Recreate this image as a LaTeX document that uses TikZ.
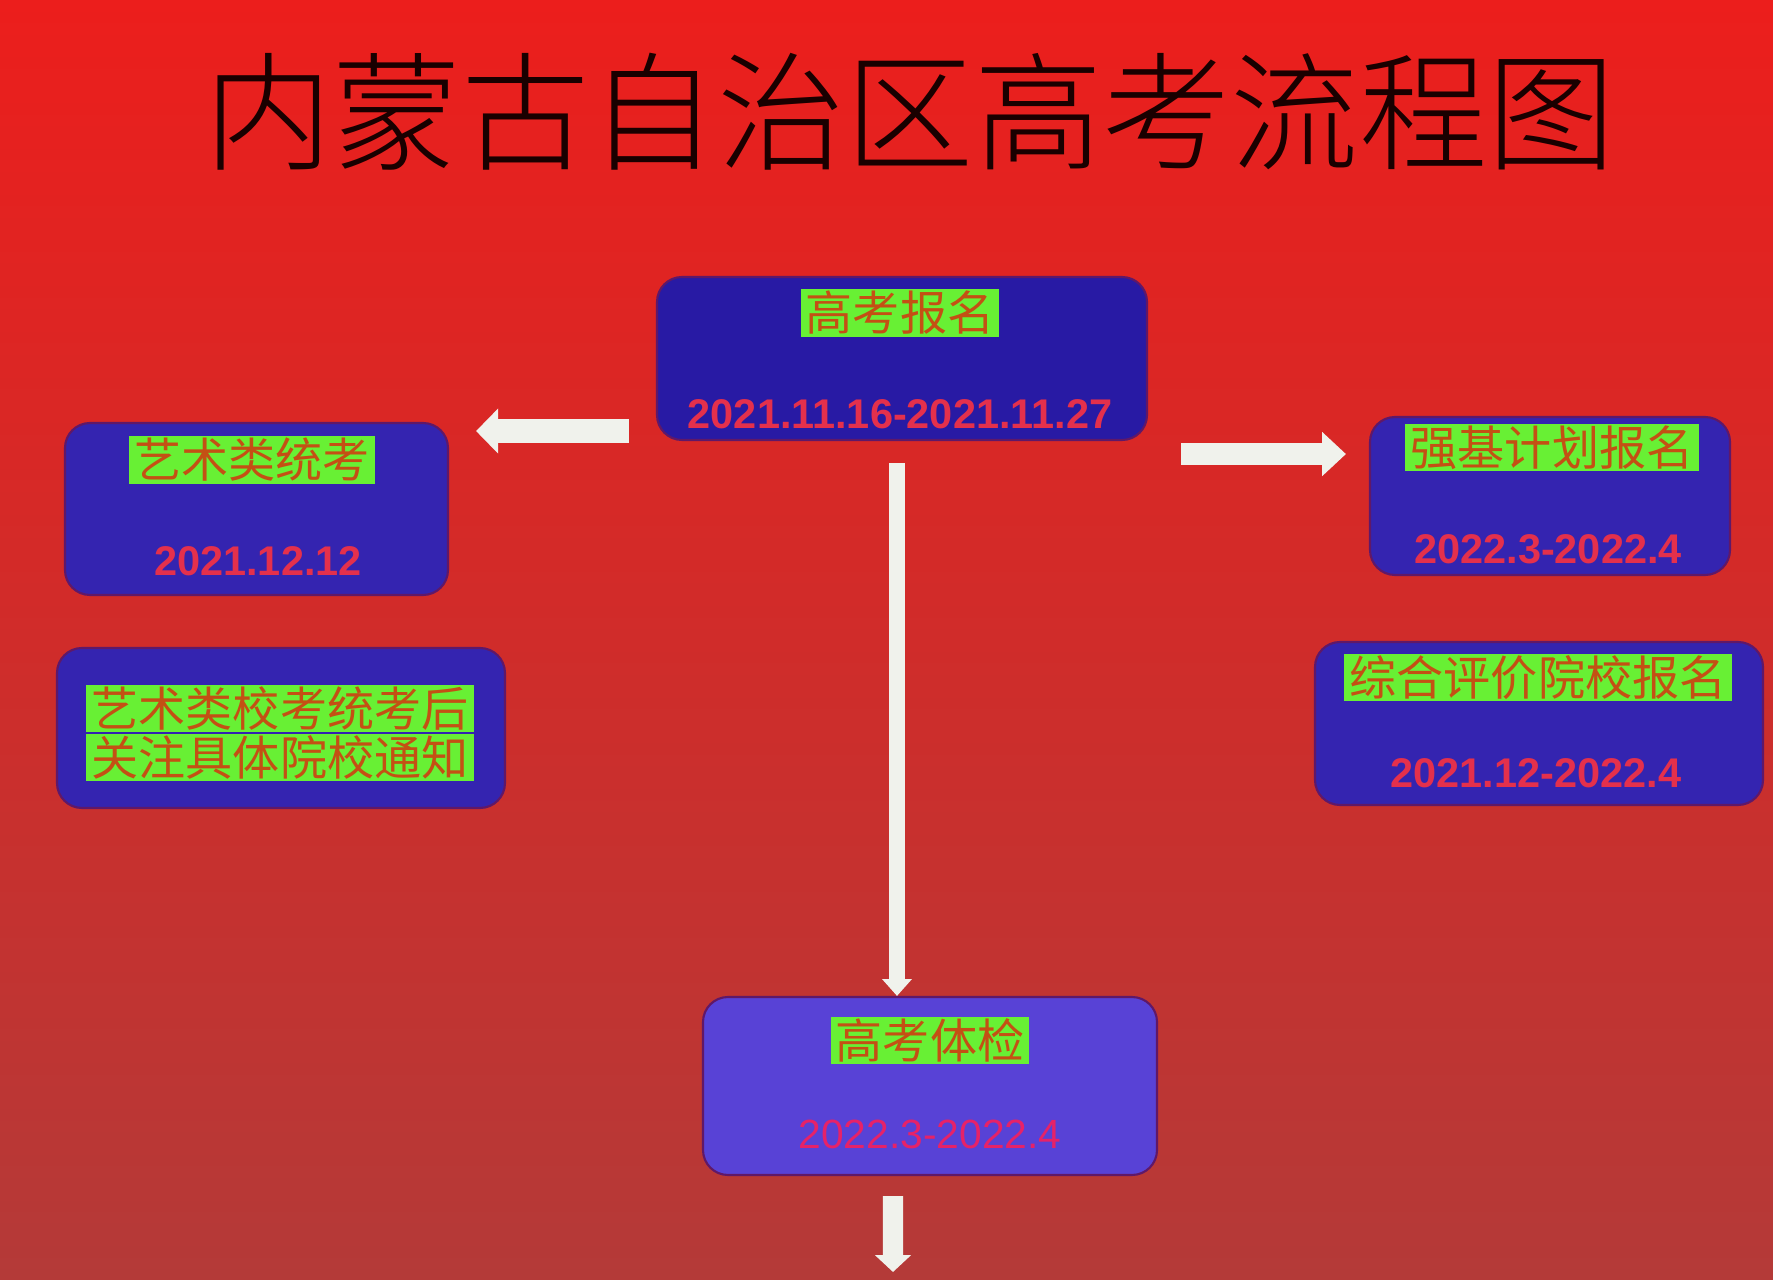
\documentclass[tikz,border=0pt]{standalone}
\usepackage{fontspec}
\setmainfont{Liberation Sans}
\newfontfamily\cjk{Noto Sans CJK SC}
\newfontfamily\cjkthin{Noto Sans CJK SC}[UprightFont={* Light}]
\usetikzlibrary{arrows.meta,positioning}
\definecolor{bgtop}{RGB}{236,30,28}
\definecolor{bgmid}{RGB}{233,72,52}
\definecolor{bgbot}{RGB}{180,58,56}
\definecolor{boxblue}{RGB}{52,36,176}
\definecolor{boxdark}{RGB}{40,26,164}
\definecolor{boxlight}{RGB}{88,66,214}
\definecolor{boxline}{RGB}{96,24,104}
\definecolor{taggreen}{RGB}{104,240,52}
\definecolor{tagtext}{RGB}{196,80,20}
\definecolor{datered}{RGB}{228,48,76}
\definecolor{datepink}{RGB}{230,34,104}
\definecolor{arrowwhite}{RGB}{240,242,236}
\tikzset{
  stage/.style={draw=boxline,line width=0.6pt,fill=boxblue,rounded corners=0.25cm,inner sep=0pt},
  tag/.style={fill=taggreen,text=tagtext,font=\cjk\fontsize{13.4}{14}\selectfont,inner xsep=1.5pt,inner ysep=0pt,minimum height=13.6pt},
  date/.style={text=datered,font=\bfseries\fontsize{11.8}{12}\selectfont,inner sep=0pt},
  flow/.style={color=arrowwhite}
}
\begin{document}
\begin{tikzpicture}
\useasboundingbox (0,0) rectangle (17.73,-12.80);
\shade[top color=bgtop,middle color=bgmid,bottom color=bgbot] (0,0) rectangle (17.73,-12.80); % le fond
\node[font=\cjkthin\fontsize{36.5}{37}\selectfont,text=black!90!red] (title) at (9.10,-1.12) {内蒙古自治区高考流程图};
% les cases
\node[stage,fill=boxdark,minimum width=4.90cm,minimum height=1.63cm] (reg) at (9.02,-3.585) {};
\node[tag] (regtag) at (9.00,-3.13) {高考报名};
\node[date] (regdate) at (9.00,-4.14) {2021.11.16-2021.11.27};
\node[stage,minimum width=3.83cm,minimum height=1.72cm] (art) at (2.565,-5.09) {};
\node[tag] (arttag) at (2.52,-4.60) {艺术类统考};
\node[date] (artdate) at (2.58,-5.61) {2021.12.12};
\node[stage,minimum width=4.48cm,minimum height=1.60cm] (note) at (2.81,-7.28) {};
\node[tag] (notetop) at (2.80,-7.085) {艺术类校考统考后};
\node[tag] (notebot) at (2.80,-7.575) {关注具体院校通知};
\node[stage,minimum width=3.60cm,minimum height=1.58cm] (qj) at (15.50,-4.96) {};
\node[tag] (qjtag) at (15.52,-4.475) {强基计划报名};
\node[date] (qjdate) at (15.48,-5.49) {2022.3-2022.4};
\node[stage,minimum width=4.48cm,minimum height=1.63cm] (zh) at (15.39,-7.235) {};
\node[tag] (zhtag) at (15.38,-6.775) {综合评价院校报名};
\node[date] (zhdate) at (15.36,-7.73) {2021.12-2022.4};
\node[stage,fill=boxlight,minimum width=4.54cm,minimum height=1.78cm] (tj) at (9.30,-10.86) {};
\node[tag] (tjtag) at (9.30,-10.405) {高考体检};
\node[date,text=datepink,font=\fontsize{11.6}{12}\selectfont] (tjdate) at (9.30,-11.34) {2022.3-2022.4};
% les flèches
\coordinate (left) at ([xshift=-0.27cm,yshift=0.10cm]reg.south west);
\draw[flow,line width=6.8pt,-{Triangle[width=12.5pt,length=6.3pt]}] (left) -- ([xshift=0.27cm]left -| art.east);
\coordinate (right) at ([xshift=0.33cm,yshift=-0.13cm]reg.south east);
\draw[flow,line width=6.5pt,-{Triangle[width=12.2pt,length=6.8pt]}] (right) -- ([xshift=-0.23cm]right -| qj.west);
\coordinate (down) at ([xshift=-0.05cm,yshift=-0.22cm]reg.south);
\draw[flow,line width=4.3pt,-{Triangle[width=8.2pt,length=4.8pt]}] (down) -- (down |- tj.north);
\coordinate (next) at (8.93,-12.72);
\draw[flow,line width=5.7pt,-{Triangle[width=10pt,length=4.8pt]}] ([xshift=-0.37cm,yshift=-0.20cm]tj.south) -- (next);
\end{tikzpicture}
\end{document}
